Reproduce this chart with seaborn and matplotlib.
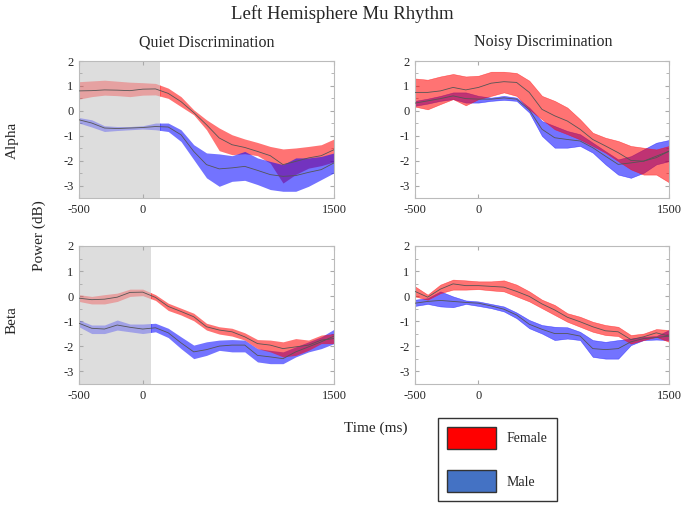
import numpy as np
import pandas as pd
import seaborn as sns
import matplotlib.pyplot as plt
from matplotlib.patches import Patch, Rectangle
from matplotlib.ticker import MultipleLocator

sns.set_style("white")
plt.rcParams['font.family'] = ['Liberation Serif', 'DejaVu Serif']

# time axis (ms)
time = [-500, -400, -300, -200, -100, 0, 100, 200, 300, 400, 500,
        600, 700, 800, 900, 1000, 1100, 1200, 1300, 1400, 1500]

# Quiet / Alpha
qa_f_mean = [0.80, 0.81, 0.84, 0.83, 0.81, 0.87, 0.88, 0.70, 0.37, -0.07, -0.56,
             -1.09, -1.36, -1.47, -1.63, -1.80, -2.16, -2.03, -1.89, -1.80, -1.56]
qa_f_lo = [0.47, 0.57, 0.63, 0.61, 0.57, 0.63, 0.64, 0.50, 0.17, -0.16, -0.76,
           -1.60, -1.76, -1.72, -1.80, -2.10, -2.90, -2.55, -2.30, -2.20, -2.05]
qa_f_hi = [1.17, 1.20, 1.23, 1.19, 1.15, 1.13, 1.10, 0.91, 0.57, 0.04, -0.36,
           -0.69, -0.96, -1.13, -1.27, -1.43, -1.53, -1.49, -1.43, -1.36, -1.13]
qa_m_mean = [-0.36, -0.49, -0.69, -0.71, -0.69, -0.67, -0.63, -0.65, -0.96, -1.63, -2.16,
             -2.33, -2.29, -2.23, -2.39, -2.56, -2.63, -2.60, -2.47, -2.36, -2.09]
qa_m_lo = [-0.49, -0.65, -0.83, -0.79, -0.76, -0.73, -0.76, -0.83, -1.23, -1.96, -2.69,
           -3.03, -2.83, -2.79, -2.96, -3.16, -3.23, -3.23, -3.03, -2.76, -2.49]
qa_m_hi = [-0.27, -0.36, -0.60, -0.63, -0.63, -0.60, -0.49, -0.49, -0.76, -1.36, -1.69,
           -1.73, -1.80, -1.63, -1.89, -2.03, -2.16, -1.89, -1.89, -1.83, -1.69]

# Noisy / Alpha
na_f_mean = [0.74, 0.74, 0.80, 0.94, 0.84, 0.94, 1.11, 1.17, 1.14, 0.74, 0.06,
             -0.20, -0.41, -0.74, -1.15, -1.41, -1.68, -1.99, -2.02, -1.82, -1.62]
na_f_lo = [0.17, 0.06, 0.27, 0.47, 0.22, 0.47, 0.60, 0.74, 0.60, 0.06, -0.34,
           -0.74, -0.94, -1.15, -1.41, -1.68, -2.02, -2.35, -2.56, -2.56, -2.87]
na_f_hi = [1.30, 1.25, 1.38, 1.48, 1.38, 1.41, 1.57, 1.57, 1.52, 1.21, 0.60,
           0.40, 0.13, -0.34, -0.88, -1.08, -1.21, -1.41, -1.48, -1.55, -1.41]
na_m_mean = [0.31, 0.40, 0.49, 0.60, 0.49, 0.47, 0.47, 0.52, 0.47, 0.04, -0.74,
             -1.08, -1.15, -1.21, -1.48, -1.82, -2.15, -2.09, -2.02, -1.88, -1.62]
na_m_lo = [0.20, 0.29, 0.40, 0.47, 0.33, 0.33, 0.40, 0.44, 0.40, -0.07, -1.01,
           -1.48, -1.48, -1.41, -1.68, -2.15, -2.56, -2.69, -2.49, -2.15, -2.02]
na_m_hi = [0.40, 0.49, 0.60, 0.74, 0.74, 0.60, 0.53, 0.60, 0.53, 0.13, -0.41,
           -0.61, -0.81, -0.94, -1.28, -1.62, -1.95, -1.82, -1.55, -1.28, -1.17]

# Quiet / Beta
qb_f_mean = [-0.08, -0.14, -0.12, -0.04, 0.15, 0.16, -0.05, -0.41, -0.61, -0.82, -1.22,
             -1.35, -1.42, -1.62, -1.89, -1.95, -2.09, -2.02, -1.95, -1.75, -1.69]
qb_f_lo = [-0.21, -0.31, -0.31, -0.21, -0.01, 0.02, -0.17, -0.57, -0.75, -0.98, -1.35,
           -1.51, -1.59, -1.75, -2.09, -2.22, -2.42, -2.36, -2.16, -1.89, -1.89]
qb_f_hi = [0.06, -0.01, 0.06, 0.12, 0.28, 0.28, 0.06, -0.28, -0.48, -0.68, -1.08,
           -1.22, -1.28, -1.46, -1.73, -1.75, -1.82, -1.69, -1.75, -1.55, -1.49]
qb_m_mean = [-1.08, -1.28, -1.31, -1.15, -1.24, -1.31, -1.26, -1.46, -1.86, -2.22, -2.13,
             -1.99, -1.95, -1.95, -2.36, -2.42, -2.49, -2.22, -2.02, -1.82, -1.59]
qb_m_lo = [-1.22, -1.49, -1.49, -1.35, -1.42, -1.49, -1.42, -1.65, -2.09, -2.49, -2.36,
           -2.16, -2.22, -2.22, -2.62, -2.69, -2.69, -2.42, -2.22, -2.09, -1.89]
qb_m_hi = [-0.95, -1.15, -1.15, -0.95, -1.11, -1.11, -1.08, -1.28, -1.62, -1.95, -1.82,
           -1.75, -1.73, -1.75, -2.09, -2.16, -2.22, -2.02, -1.82, -1.62, -1.32]

# Noisy / Beta
nb_f_mean = [0.19, -0.04, 0.28, 0.49, 0.42, 0.42, 0.39, 0.36, 0.19, -0.01, -0.31,
             -0.55, -0.84, -1.02, -1.22, -1.38, -1.42, -1.73, -1.62, -1.46, -1.59]
nb_f_lo = [-0.01, -0.14, 0.12, 0.26, 0.26, 0.28, 0.23, 0.19, -0.01, -0.21, -0.48,
           -0.75, -1.02, -1.22, -1.42, -1.55, -1.59, -1.89, -1.75, -1.62, -1.82]
nb_f_hi = [0.39, 0.06, 0.46, 0.66, 0.63, 0.59, 0.59, 0.63, 0.46, 0.19, -0.14,
           -0.35, -0.68, -0.82, -1.02, -1.15, -1.22, -1.55, -1.49, -1.31, -1.35]
nb_m_mean = [-0.28, -0.21, -0.17, -0.21, -0.25, -0.28, -0.39, -0.52, -0.75, -1.12, -1.32,
             -1.49, -1.49, -1.59, -2.09, -2.13, -2.09, -1.82, -1.69, -1.65, -1.59]
nb_m_lo = [-0.39, -0.31, -0.41, -0.44, -0.31, -0.39, -0.48, -0.61, -0.88, -1.28, -1.49,
           -1.75, -1.69, -1.75, -2.42, -2.49, -2.49, -1.95, -1.75, -1.73, -1.75]
nb_m_hi = [-0.14, -0.08, 0.19, -0.01, -0.17, -0.21, -0.31, -0.41, -0.65, -0.95, -1.15,
           -1.22, -1.24, -1.42, -1.75, -1.82, -1.75, -1.69, -1.62, -1.59, -1.35]

panels = [
    (qa_f_mean, qa_f_lo, qa_f_hi, qa_m_mean, qa_m_lo, qa_m_hi),
    (na_f_mean, na_f_lo, na_f_hi, na_m_mean, na_m_lo, na_m_hi),
    (qb_f_mean, qb_f_lo, qb_f_hi, qb_m_mean, qb_m_lo, qb_m_hi),
    (nb_f_mean, nb_f_lo, nb_f_hi, nb_m_mean, nb_m_lo, nb_m_hi),
]
# baseline shading end (ms), only in the quiet panels
shade_end = [135, None, 65, None]
# which group sits on top in each panel
male_on_top = [True, False, False, False]

fig = plt.figure(figsize=(6.85, 5.08), dpi=100)
rects = [
    [0.1153, 0.6102, 0.3723, 0.2697],
    [0.6058, 0.6102, 0.3708, 0.2697],
    [0.1153, 0.2441, 0.3723, 0.2717],
    [0.6058, 0.2441, 0.3708, 0.2717],
]

red = '#ff0000'
blue = '#0000ff'

for i, (rect, data) in enumerate(zip(rects, panels)):
    ax = fig.add_axes(rect)
    f_mean, f_lo, f_hi, m_mean, m_lo, m_hi = data
    se = shade_end[i]

    groups = [(f_lo, f_hi, red), (m_lo, m_hi, blue)]
    if not male_on_top[i]:
        groups = groups[::-1]

    if se is not None:
        ax.axvspan(-500, se, color='#dddddd', lw=0, zorder=0)

    for z, (lo, hi, col) in enumerate(groups):
        if se is None:
            ax.fill_between(time, lo, hi, color=col, alpha=0.55, lw=0.4,
                            edgecolor=col, zorder=1 + z)
        else:
            p1 = ax.fill_between(time, lo, hi, color=col, alpha=0.55, lw=0,
                                 zorder=1 + z)
            p1.set_clip_path(Rectangle((se, -10), 5000, 20, transform=ax.transData))
            p2 = ax.fill_between(time, lo, hi, color=col, alpha=0.27, lw=0,
                                 zorder=1 + z)
            p2.set_clip_path(Rectangle((-1000, -10), se + 1000, 20, transform=ax.transData))

    df = pd.DataFrame({'time': time * 2,
                       'power': list(f_mean) + list(m_mean),
                       'sex': ['Female'] * len(time) + ['Male'] * len(time)})
    sns.lineplot(data=df, x='time', y='power', units='sex', estimator=None,
                 color='#555555', lw=0.6, ax=ax, zorder=5)

    ax.set_xlim(-500, 1500)
    ax.set_ylim(-3.5, 2)
    ax.set_xticks([-500, 0, 1500])
    ax.set_xticklabels(['-500', '0', '1500'])
    ax.set_yticks([-3, -2, -1, 0, 1, 2])
    ax.set_yticklabels(['-3', '-2', '-1', '0', '1', '2'])
    ax.yaxis.set_minor_locator(MultipleLocator(0.5))
    ax.tick_params(which='both', direction='in', color='#aaaaaa', labelsize=9,
                   left=True, right=True, top=True, bottom=True, length=3, pad=4)
    ax.tick_params(which='minor', length=2)
    ax.set_xlabel('')
    ax.set_ylabel('')
    for s in ax.spines.values():
        s.set_color('#bbbbbb')
        s.set_linewidth(0.8)

fig.text(0.5, 0.972, 'Left Hemisphere Mu Rhythm', ha='center', va='center', fontsize=13.5)
fig.text(0.302, 0.917, 'Quiet Discrimination', ha='center', va='center', fontsize=11.5)
fig.text(0.793, 0.917, 'Noisy Discrimination', ha='center', va='center', fontsize=11.5)
fig.text(0.0175, 0.724, 'Alpha', rotation=90, ha='center', va='center', fontsize=11)
fig.text(0.0175, 0.37, 'Beta', rotation=90, ha='center', va='center', fontsize=11)
fig.text(0.058, 0.537, 'Power (dB)', rotation=90, ha='center', va='center', fontsize=11)
fig.text(0.548, 0.157, 'Time (ms)', ha='center', va='center', fontsize=11)

handles = [Patch(facecolor='#ff0000', edgecolor='#333333', label='Female'),
           Patch(facecolor='#4472c4', edgecolor='#333333', label='Male')]
leg = fig.legend(handles=handles, loc='upper left', bbox_to_anchor=(0.6394, 0.1772),
                 frameon=True, fancybox=False, edgecolor='black', fontsize=10,
                 handlelength=3.5, handleheight=2.05, labelspacing=1.55,
                 borderpad=0.65, handletextpad=0.8, borderaxespad=0)
leg.get_frame().set_linewidth(1.0)

fig.savefig('out.png', dpi=100)
